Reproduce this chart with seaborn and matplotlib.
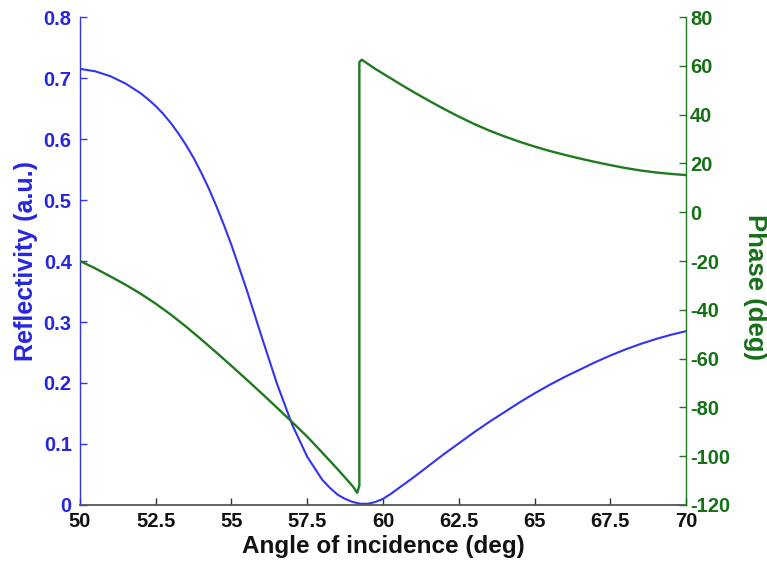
import matplotlib
matplotlib.use("Agg")
import matplotlib.pyplot as plt
import seaborn as sns
import pandas as pd

# Reflectivity versus angle of incidence
refl_angle = [50, 50.5, 51, 51.5, 52, 52.25, 52.5, 52.75, 53, 53.25, 53.5,
              53.75, 54, 54.25, 54.5, 54.75, 55, 55.5, 56, 56.5, 57, 57.5, 58,
              58.25, 58.5, 58.75, 59, 59.25, 59.5, 59.75, 60, 60.25, 60.5, 61,
              61.5, 62, 62.5, 63, 63.5, 64, 64.5, 65, 65.5, 66, 66.5, 67, 67.5,
              68, 68.5, 69, 69.5, 70]
reflectivity = [0.715, 0.711, 0.703, 0.691, 0.675, 0.665, 0.654, 0.641, 0.626,
                0.609, 0.590, 0.569, 0.545, 0.519, 0.490, 0.459, 0.426, 0.353,
                0.275, 0.199, 0.132, 0.079, 0.041, 0.028, 0.017, 0.010, 0.005,
                0.002, 0.002, 0.005, 0.010, 0.018, 0.027, 0.045, 0.064, 0.083,
                0.101, 0.119, 0.136, 0.152, 0.168, 0.183, 0.197, 0.210, 0.222,
                0.234, 0.245, 0.255, 0.264, 0.272, 0.279, 0.285]

# Phase versus angle of incidence (jump near the reflectivity minimum)
phase_angle = [50, 50.5, 51, 51.5, 52, 52.5, 53, 53.5, 54, 54.5, 55, 55.5, 56,
               56.5, 57, 57.5, 58, 58.5, 59, 59.15, 59.22, 59.22, 59.3, 59.5,
               59.75, 60, 60.5, 61, 61.5, 62, 62.5, 63, 63.5, 64, 64.5, 65,
               65.5, 66, 66.5, 67, 67.5, 68, 68.5, 69, 69.5, 70]
phase = [-20, -23, -26.3, -29.7, -33.4, -37.5, -42, -46.9, -52.1, -57.5, -63,
         -68.6, -74.3, -80.1, -86, -92, -98.6, -105.3, -112.3, -115, -112,
         61.5, 62.5, 60.8, 58.7, 56.8, 53.0, 49.3, 45.8, 42.4, 39.2, 36.2,
         33.5, 31.1, 28.9, 26.9, 25.1, 23.5, 22.0, 20.6, 19.3, 18.1, 17.1,
         16.3, 15.7, 15.2]

x_ticks = [50, 52.5, 55, 57.5, 60, 62.5, 65, 67.5, 70]
x_tick_labels = ["50", "52.5", "55", "57.5", "60", "62.5", "65", "67.5", "70"]
refl_ticks = [0, 0.1, 0.2, 0.3, 0.4, 0.5, 0.6, 0.7, 0.8]
phase_ticks = [-120, -100, -80, -60, -40, -20, 0, 20, 40, 60, 80]

sns.set_style("ticks")
plt.rcParams["font.family"] = ["Liberation Sans", "DejaVu Sans"]
plt.rcParams["font.weight"] = "bold"

BLUE_LINE = "#3333f2"
BLUE_TEXT = "#2626e0"
GREEN_LINE = "#1f7a1f"
GREEN_TEXT = "#167016"

fig = plt.figure(figsize=(7.67, 5.65), dpi=100)
ax = fig.add_axes([0.1043, 0.1062, 0.7901, 0.8637])
ax2 = ax.twinx()

refl_df = pd.DataFrame({"angle": refl_angle, "value": reflectivity})
phase_df = pd.DataFrame({"angle": phase_angle, "value": phase})

sns.lineplot(data=refl_df, x="angle", y="value", ax=ax, color=BLUE_LINE,
             linewidth=1.5, sort=False, estimator=None)
sns.lineplot(data=phase_df, x="angle", y="value", ax=ax2, color=GREEN_LINE,
             linewidth=1.7, sort=False, estimator=None)

ax.set_xlim(50, 70)
ax.set_ylim(0, 0.8)
ax2.set_ylim(-120, 80)

ax.set_xticks(x_ticks)
ax.set_xticklabels(x_tick_labels)
ax.set_yticks(refl_ticks)
ax.set_yticklabels([f"{t:g}" for t in refl_ticks])
ax2.set_yticks(phase_ticks)
ax2.set_yticklabels([str(t) for t in phase_ticks])

for a in (ax, ax2):
    a.spines["top"].set_visible(False)
ax2.spines["left"].set_visible(False)
ax2.spines["bottom"].set_visible(False)
ax.spines["right"].set_visible(False)

ax.spines["left"].set_color(BLUE_LINE)
ax.spines["left"].set_linewidth(1.0)
ax.spines["bottom"].set_color("#555555")
ax.spines["bottom"].set_linewidth(1.3)
ax2.spines["right"].set_color(GREEN_LINE)
ax2.spines["right"].set_linewidth(1.0)

ax.tick_params(axis="x", direction="in", length=5, width=1, colors="#333333",
               labelsize=14.5, pad=5, labelcolor="#111111")
ax.tick_params(axis="y", direction="in", length=5, width=1, color=BLUE_LINE,
               labelcolor=BLUE_TEXT, labelsize=14.5, pad=6)
ax2.tick_params(axis="y", direction="in", length=5, width=1, color=GREEN_LINE,
                labelcolor=GREEN_TEXT, labelsize=14.5, pad=3)

ax.set_xlabel("Angle of incidence (deg)", fontsize=17.5, fontweight="bold",
              color="#111111", labelpad=3)
ax.set_ylabel("Reflectivity (a.u.)", fontsize=18, fontweight="bold",
              color=BLUE_TEXT, labelpad=4)
ax2.set_ylabel("Phase (deg)", fontsize=18.5, fontweight="bold",
               color=GREEN_TEXT, rotation=270, va="center")
ax2.yaxis.set_label_coords(1.114, 0.447)

fig.savefig("out.png", dpi=100)
